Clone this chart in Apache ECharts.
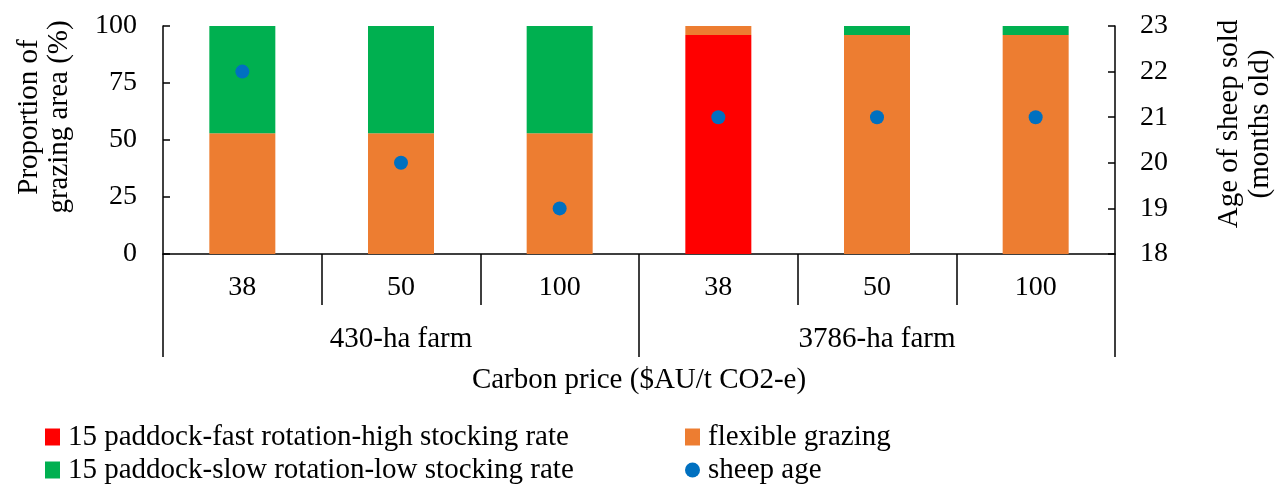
<!DOCTYPE html>
<html>
<head>
<meta charset="utf-8">
<script src="https://cdn.jsdelivr.net/npm/echarts@6/dist/echarts.min.js"></script>
<style>html,body{margin:0;padding:0;background:#fff}#c{width:1276px;height:486px}</style>
</head>
<body>
<div id="c"></div>
<script>
var categories = ['38', '50', '100', '38', '50', '100'];
var groups = ['430-ha farm', '3786-ha farm'];
var fastRotation = [0, 0, 0, 96, 0, 0];
var flexibleGrazing = [53, 53, 53, 4, 96, 96];
var slowRotation = [47, 47, 47, 0, 4, 4];
var sheepAge = [22, 20, 19, 21, 21, 21];

var FONT = '"Liberation Serif", "Times New Roman", serif';
var FS = 29;   // text
var NS = 28;   // numbers
var chart = echarts.init(document.getElementById('c'));
var axisLineStyle = { color: '#000', width: 1.5 };
var legendText = { fontFamily: FONT, fontSize: FS, color: '#000', lineHeight: 30, padding: [0, 0, 0, 3] };
chart.setOption({
  animation: false,
  backgroundColor: '#fff',
  textStyle: { fontFamily: FONT, color: '#000' },
  grid: { left: 163, right: 161, top: 26, bottom: 232, containLabel: false },
  legend: [
    {
      left: 45, top: 422, height: 120, orient: 'vertical', itemGap: 3, padding: 0,
      itemWidth: 15, itemHeight: 17,
      textStyle: legendText,
      data: [
        { name: '15 paddock-fast rotation-high stocking rate', icon: 'rect' },
        { name: '15 paddock-slow rotation-low stocking rate', icon: 'rect' }
      ]
    },
    {
      left: 685, top: 422, height: 120, orient: 'vertical', itemGap: 3, padding: 0,
      itemWidth: 15, itemHeight: 17,
      textStyle: legendText,
      data: [
        { name: 'flexible grazing', icon: 'rect' },
        { name: 'sheep age', icon: 'circle' }
      ]
    }
  ],
  xAxis: [
    {
      type: 'category', data: categories, position: 'bottom',
      axisLine: { show: true, lineStyle: axisLineStyle },
      axisTick: { show: true, length: 51, lineStyle: axisLineStyle },
      axisLabel: { fontFamily: FONT, fontSize: NS, color: '#000', margin: 20 },
      splitLine: { show: false },
      name: 'Carbon price ($AU/t CO2-e)', nameLocation: 'middle', nameGap: 112,
      nameTextStyle: { fontFamily: FONT, fontSize: FS, color: '#000' }
    },
    {
      type: 'category', data: groups, position: 'bottom', offset: 0,
      axisLine: { show: false },
      axisTick: { show: true, length: 103, lineStyle: axisLineStyle },
      axisLabel: { fontFamily: FONT, fontSize: FS, color: '#000', margin: 71 },
      splitLine: { show: false }
    }
  ],
  yAxis: [
    {
      type: 'value', min: 0, max: 100, interval: 25, position: 'left',
      axisLine: { show: true, lineStyle: axisLineStyle },
      axisTick: { show: true, inside: true, length: 7, lineStyle: axisLineStyle },
      axisLabel: { fontFamily: FONT, fontSize: NS, color: '#000', margin: 26 },
      splitLine: { show: false }
    },
    {
      type: 'value', min: 18, max: 23, interval: 1, position: 'right',
      axisLine: { show: true, lineStyle: axisLineStyle },
      axisTick: { show: true, inside: true, length: 7, lineStyle: axisLineStyle },
      axisLabel: { fontFamily: FONT, fontSize: NS, color: '#000', margin: 25 },
      splitLine: { show: false }
    }
  ],
  graphic: [
    {
      type: 'text', x: 44, y: 117, rotation: Math.PI / 2,
      style: { text: 'Proportion of\ngrazing area (%)', font: FS + 'px ' + FONT, fill: '#000',
               textAlign: 'center', textVerticalAlign: 'middle', lineHeight: 30 }
    },
    {
      type: 'text', x: 1245, y: 124, rotation: Math.PI / 2,
      style: { text: 'Age of sheep sold\n(months old)', font: FS + 'px ' + FONT, fill: '#000',
               textAlign: 'center', textVerticalAlign: 'middle', lineHeight: 31 }
    }
  ],
  series: [
    { name: '15 paddock-fast rotation-high stocking rate', type: 'bar', stack: 'a', barWidth: 66,
      xAxisIndex: 0, yAxisIndex: 0, itemStyle: { color: '#FF0000' }, data: fastRotation },
    { name: 'flexible grazing', type: 'bar', stack: 'a', barWidth: 66,
      xAxisIndex: 0, yAxisIndex: 0, itemStyle: { color: '#ED7D31' }, data: flexibleGrazing },
    { name: '15 paddock-slow rotation-low stocking rate', type: 'bar', stack: 'a', barWidth: 66,
      xAxisIndex: 0, yAxisIndex: 0, itemStyle: { color: '#00B050' }, data: slowRotation },
    { name: 'sheep age', type: 'scatter', symbol: 'circle', symbolSize: 14,
      xAxisIndex: 0, yAxisIndex: 1, itemStyle: { color: '#0070C0', opacity: 1 }, data: sheepAge, z: 5 }
  ]
});
</script>
</body>
</html>
